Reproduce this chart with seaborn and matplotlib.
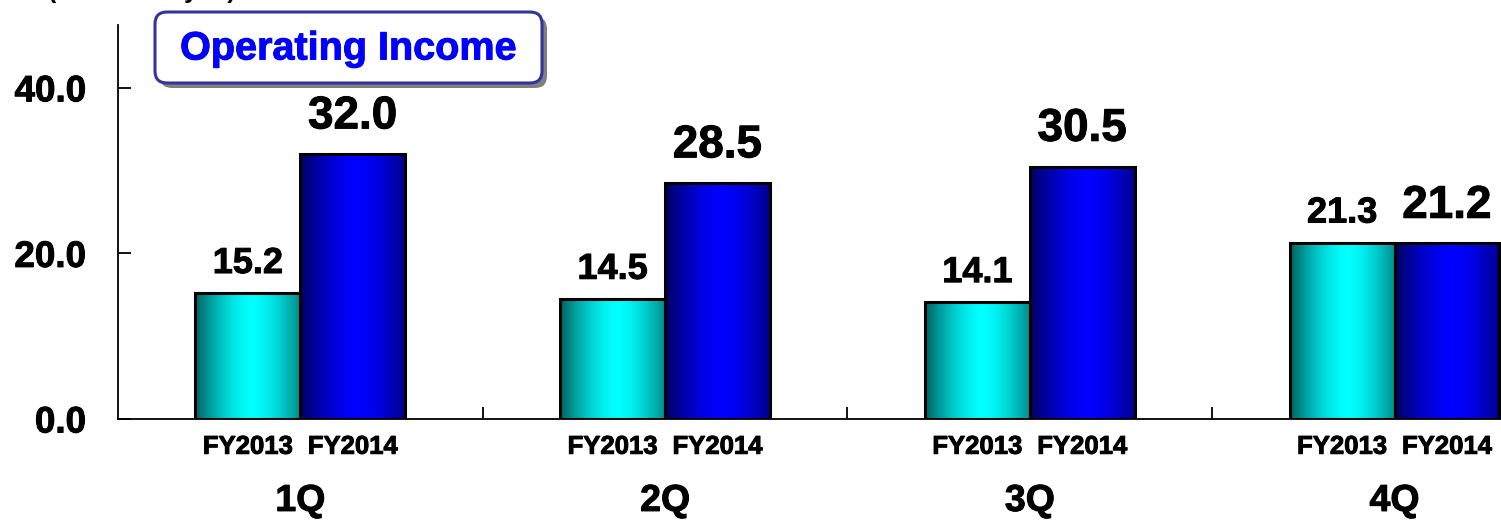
import numpy as np
import pandas as pd
import matplotlib
matplotlib.use("Agg")
import matplotlib.pyplot as plt
import matplotlib.patheffects as pe
import seaborn as sns
from matplotlib.colors import LinearSegmentedColormap
from matplotlib.patches import FancyBboxPatch

# Data
quarters = ["1Q", "2Q", "3Q", "4Q"]
years = ["FY2013", "FY2014"]
fy2013 = [15.2, 14.5, 14.1, 21.3]
fy2014 = [32.0, 28.5, 30.5, 21.2]
y_ticks = [0, 20, 40]

sns.set_theme(style="white")
plt.rcParams["font.family"] = ["Liberation Sans", "DejaVu Sans"]
plt.rcParams["font.weight"] = "bold"
plt.rcParams["text.color"] = "black"
plt.rcParams["xtick.color"] = "black"
plt.rcParams["ytick.color"] = "black"

# slightly heavier glyphs, like the original rendering
heavy = [pe.withStroke(linewidth=0.7, foreground="black")]

df = pd.DataFrame({
    "quarter": quarters * 2,
    "year": [years[0]] * 4 + [years[1]] * 4,
    "value": fy2013 + fy2014,
})

fig = plt.figure(figsize=(15.01, 5.24), dpi=100)
ax = fig.add_axes([0.0786, 0.2004, 0.972, 0.752])

sns.barplot(data=df, x="quarter", y="value", hue="year", order=quarters,
            hue_order=years, palette={"FY2013": "#00ffff", "FY2014": "#0000ff"},
            width=0.575, gap=0, edgecolor="black", linewidth=2.2,
            legend=False, ax=ax)

# cylinder-like horizontal gradients
cmaps = {
    "FY2013": LinearSegmentedColormap.from_list("c", ["#006060", "#00ffff"]),
    "FY2014": LinearSegmentedColormap.from_list("b", ["#000060", "#0000ff"]),
}
t = np.linspace(0, 1, 200)
shade = 1 - np.abs((t - 0.55) / 0.55) ** 1.6
shade = np.clip(shade, 0, 1)[None, :]

for i, p in enumerate(ax.patches):
    yr = years[i // 4]
    x0, w, h = p.get_x(), p.get_width(), p.get_height()
    im = ax.imshow(shade, cmap=cmaps[yr], aspect="auto", vmin=0, vmax=1,
                   extent=[x0, x0 + w, 0, h], zorder=2, interpolation="bilinear")
    im.set_clip_path(p)
    p.set_facecolor("none")
    p.set_zorder(3)
    # value labels
    big = yr == "FY2014"
    ax.annotate(f"{h:.1f}", (x0 + w / 2, h), xytext=(0, 18.5 if big else 14.5),
                textcoords="offset points", ha="center", va="baseline",
                fontsize=33 if big else 26, fontweight="bold", color="black",
                path_effects=heavy)
    # year label under each bar
    ax.annotate(yr, (x0 + w / 2, 0), xycoords=("data", "axes fraction"),
                xytext=(0, -20), textcoords="offset points", ha="center",
                va="center", fontsize=18.5, fontweight="bold", color="black",
                path_effects=heavy)

# quarter labels
for i, q in enumerate(quarters):
    ax.annotate(q, (i, 0), xycoords=("data", "axes fraction"), xytext=(0, -59),
                textcoords="offset points", ha="center", va="center",
                fontsize=27, fontweight="bold", color="black", path_effects=heavy)

ax.set_xlim(-0.5, 3.5)
ax.set_ylim(0, 47.6)

ax.set_xticks([0.5, 1.5, 2.5])
ax.set_xticklabels([])
ax.tick_params(axis="x", direction="in", length=9, width=1.3, color="black",
               bottom=True)
ax.set_xlabel("")

ax.set_yticks(y_ticks)
ax.set_yticklabels([f"{v:.1f}" for v in y_ticks], fontsize=26.5,
                   fontweight="bold", color="black")
for lab in ax.get_yticklabels():
    lab.set_path_effects(heavy)
ax.tick_params(axis="y", direction="in", length=9, width=1.3, color="black",
               pad=23, left=True)
ax.set_ylabel("")

for s in ["top", "right"]:
    ax.spines[s].set_visible(False)
for s in ["left", "bottom"]:
    ax.spines[s].set_color("black")
    ax.spines[s].set_linewidth(1.3)

# title box with shadow
tr = fig.dpi_scale_trans
shadow = FancyBboxPatch((1.60, 4.36), 3.87, 0.71, boxstyle="round,pad=0,rounding_size=0.12",
                        transform=tr, facecolor="#808080", edgecolor="none", zorder=5)
box = FancyBboxPatch((1.55, 4.41), 3.87, 0.71, boxstyle="round,pad=0,rounding_size=0.12",
                     transform=tr, facecolor="white", edgecolor="#333399", linewidth=2.2, zorder=6)
fig.patches.extend([shadow, box])
fig.text(3.485, 4.755, "Operating Income", transform=tr, ha="center", va="center",
         fontsize=28.5, fontweight="bold", color="#0000ff", zorder=7,
         path_effects=[pe.withStroke(linewidth=0.7, foreground="#0000ff")])

fig.text(0.032, 1.0 + 2 / 524, "(Billions of yen)", ha="left", va="baseline",
         fontsize=18, fontweight="bold", color="black")

fig.savefig("out.png", dpi=100)
